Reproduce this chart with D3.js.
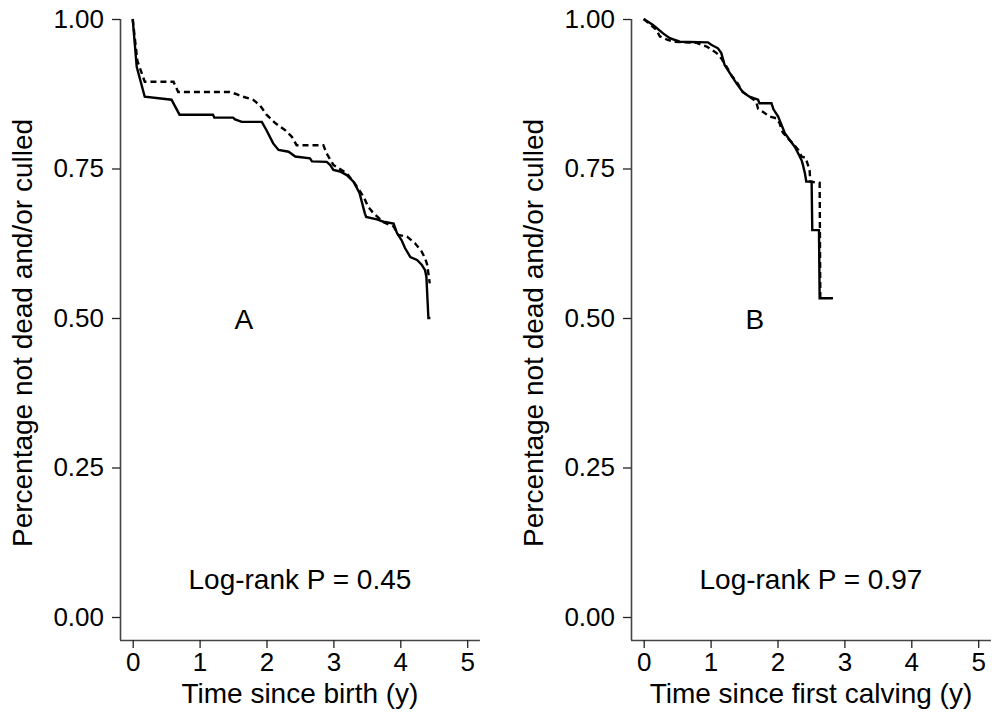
<!DOCTYPE html>
<html>
<head>
<meta charset="utf-8">
<script src="https://cdn.jsdelivr.net/npm/d3@7"></script>
<style>
  body { margin: 0; background: #fff; }
  svg { display: block; }
  text { font-family: "Liberation Sans", Arial, sans-serif; fill: #000; }
</style>
</head>
<body>
<svg id="chart" width="992" height="714"></svg>
<script>
// Data
const xTicks = [0, 1, 2, 3, 4, 5];
const yTicks = [0, 0.25, 0.5, 0.75, 1];

// panel A, solid
const timeA1 = [0, 0.06, 0.18, 0.58, 0.70, 1.20, 1.22, 1.50, 1.53, 1.63, 1.93, 2.00, 2.10, 2.18, 2.33, 2.43, 2.65, 2.68, 2.90, 2.95, 3.00, 3.10, 3.20, 3.30, 3.39, 3.47, 3.49, 3.65, 3.75, 3.90, 3.95, 4.02, 4.07, 4.15, 4.25, 4.32, 4.37, 4.39, 4.42, 4.45];
const survA1 = [1.00, 0.92, 0.87, 0.865, 0.84, 0.84, 0.835, 0.835, 0.832, 0.828, 0.828, 0.814, 0.792, 0.781, 0.778, 0.770, 0.767, 0.762, 0.761, 0.756, 0.7475, 0.745, 0.739, 0.728, 0.709, 0.675, 0.669, 0.665, 0.661, 0.658, 0.642, 0.630, 0.617, 0.602, 0.597, 0.589, 0.580, 0.569, 0.50, 0.50];
// panel A, dashed
const timeA2 = [0, 0.07, 0.18, 0.61, 0.68, 1.45, 1.56, 1.65, 1.80, 1.90, 2.00, 2.13, 2.28, 2.38, 2.45, 2.85, 2.90, 3.00, 3.20, 3.32, 3.45, 3.52, 3.60, 3.75, 3.90, 3.97, 4.10, 4.22, 4.32, 4.37, 4.40, 4.44];
const survA2 = [1.00, 0.93, 0.895, 0.895, 0.878, 0.878, 0.874, 0.870, 0.865, 0.856, 0.840, 0.826, 0.814, 0.803, 0.789, 0.789, 0.775, 0.756, 0.742, 0.725, 0.703, 0.686, 0.675, 0.660, 0.653, 0.639, 0.636, 0.625, 0.611, 0.600, 0.590, 0.558];
// panel B, solid
const timeB1 = [0, 0.14, 0.29, 0.39, 0.54, 0.96, 1.01, 1.11, 1.16, 1.21, 1.29, 1.39, 1.48, 1.58, 1.71, 1.73, 1.91, 1.94, 2.01, 2.06, 2.11, 2.18, 2.26, 2.31, 2.36, 2.38, 2.41, 2.43, 2.51, 2.52, 2.62, 2.63, 2.83];
const survB1 = [1.00, 0.99, 0.976, 0.968, 0.962, 0.961, 0.957, 0.951, 0.943, 0.923, 0.909, 0.892, 0.878, 0.870, 0.865, 0.859, 0.859, 0.849, 0.837, 0.823, 0.809, 0.798, 0.786, 0.775, 0.764, 0.756, 0.742, 0.728, 0.728, 0.647, 0.647, 0.533, 0.533];
// panel B, dashed
const timeB2 = [0, 0.19, 0.24, 0.34, 0.44, 0.79, 0.94, 1.01, 1.09, 1.16, 1.24, 1.31, 1.39, 1.48, 1.58, 1.68, 1.71, 1.78, 1.88, 1.98, 2.03, 2.08, 2.16, 2.23, 2.31, 2.36, 2.42, 2.48, 2.49, 2.63, 2.64, 2.70];
const survB2 = [1.00, 0.982, 0.971, 0.966, 0.962, 0.960, 0.954, 0.949, 0.943, 0.934, 0.920, 0.906, 0.895, 0.878, 0.870, 0.862, 0.850, 0.845, 0.837, 0.834, 0.826, 0.810, 0.800, 0.792, 0.781, 0.770, 0.768, 0.747, 0.728, 0.726, 0.533, 0.533];

const svg = d3.select('#chart');

function zip(ts, ss) {
    return ts.map((t, i) => [t, ss[i]]);
}

function draw_panel(left, xTitle, letter, pText, solid, dashed) {
    const x = d3.scaleLinear().domain([0, 5]).range([left + 12.7, left + 12.7 + 5 * 66.9]);
    const y = d3.scaleLinear().domain([0, 1]).range([617, 19]);
    const g = svg.append('g');

    // axes
    const xAxis = g.append('g')
        .attr('transform', `translate(0, 640)`)
        .call(d3.axisBottom(x).tickValues(xTicks).tickFormat(d3.format('d')).tickSizeOuter(0).tickSize(8).tickPadding(5));
    xAxis.select('.domain').attr('d', `M${left},0.5H${x(5.19)}`);

    const yAxis = g.append('g')
        .attr('transform', `translate(${left}, 0)`)
        .call(d3.axisLeft(y).tickValues(yTicks).tickFormat(d3.format('.2f')).tickSizeOuter(0).tickSize(8).tickPadding(8));
    yAxis.select('.domain').attr('d', `M0.5,${y(1)}V640`);

    g.selectAll('.domain').attr('stroke', '#444').attr('stroke-width', 1.6);
    g.selectAll('.tick line').attr('stroke', '#222').attr('stroke-width', 1.3);
    g.selectAll('.tick text').attr('font-size', 26).attr('fill', '#000')
        .attr('font-family', '"Liberation Sans", Arial, sans-serif');

    // curves
    const line = d3.line().x(d => x(d[0])).y(d => y(d[1])).curve(d3.curveLinear);
    g.append('path').datum(zip(dashed[0], dashed[1]))
        .attr('d', line).attr('fill', 'none').attr('stroke', '#000')
        .attr('stroke-width', 2.4).attr('stroke-dasharray', '6,4');
    g.append('path').datum(zip(solid[0], solid[1]))
        .attr('d', line).attr('fill', 'none').attr('stroke', '#000')
        .attr('stroke-width', 2.4);

    // texts
    g.append('text')
        .attr('transform', `translate(${left - 98}, 333) rotate(-90)`)
        .attr('text-anchor', 'middle').attr('dominant-baseline', 'central')
        .attr('font-size', 28)
        .text('Percentage not dead and/or culled');

    g.append('text')
        .attr('x', (x(0) + x(5)) / 2).attr('y', 703)
        .attr('text-anchor', 'middle').attr('font-size', 28)
        .text(xTitle);

    g.append('text')
        .attr('x', x(1.66)).attr('y', 329)
        .attr('text-anchor', 'middle').attr('font-size', 28)
        .text(letter);

    g.append('text')
        .attr('x', x(2.5)).attr('y', 589)
        .attr('text-anchor', 'middle').attr('font-size', 28)
        .text(pText);
}

draw_panel(120, 'Time since birth (y)', 'A', 'Log-rank P = 0.45', [timeA1, survA1], [timeA2, survA2]);
draw_panel(631, 'Time since first calving (y)', 'B', 'Log-rank P = 0.97', [timeB1, survB1], [timeB2, survB2]);
</script>
</body>
</html>
